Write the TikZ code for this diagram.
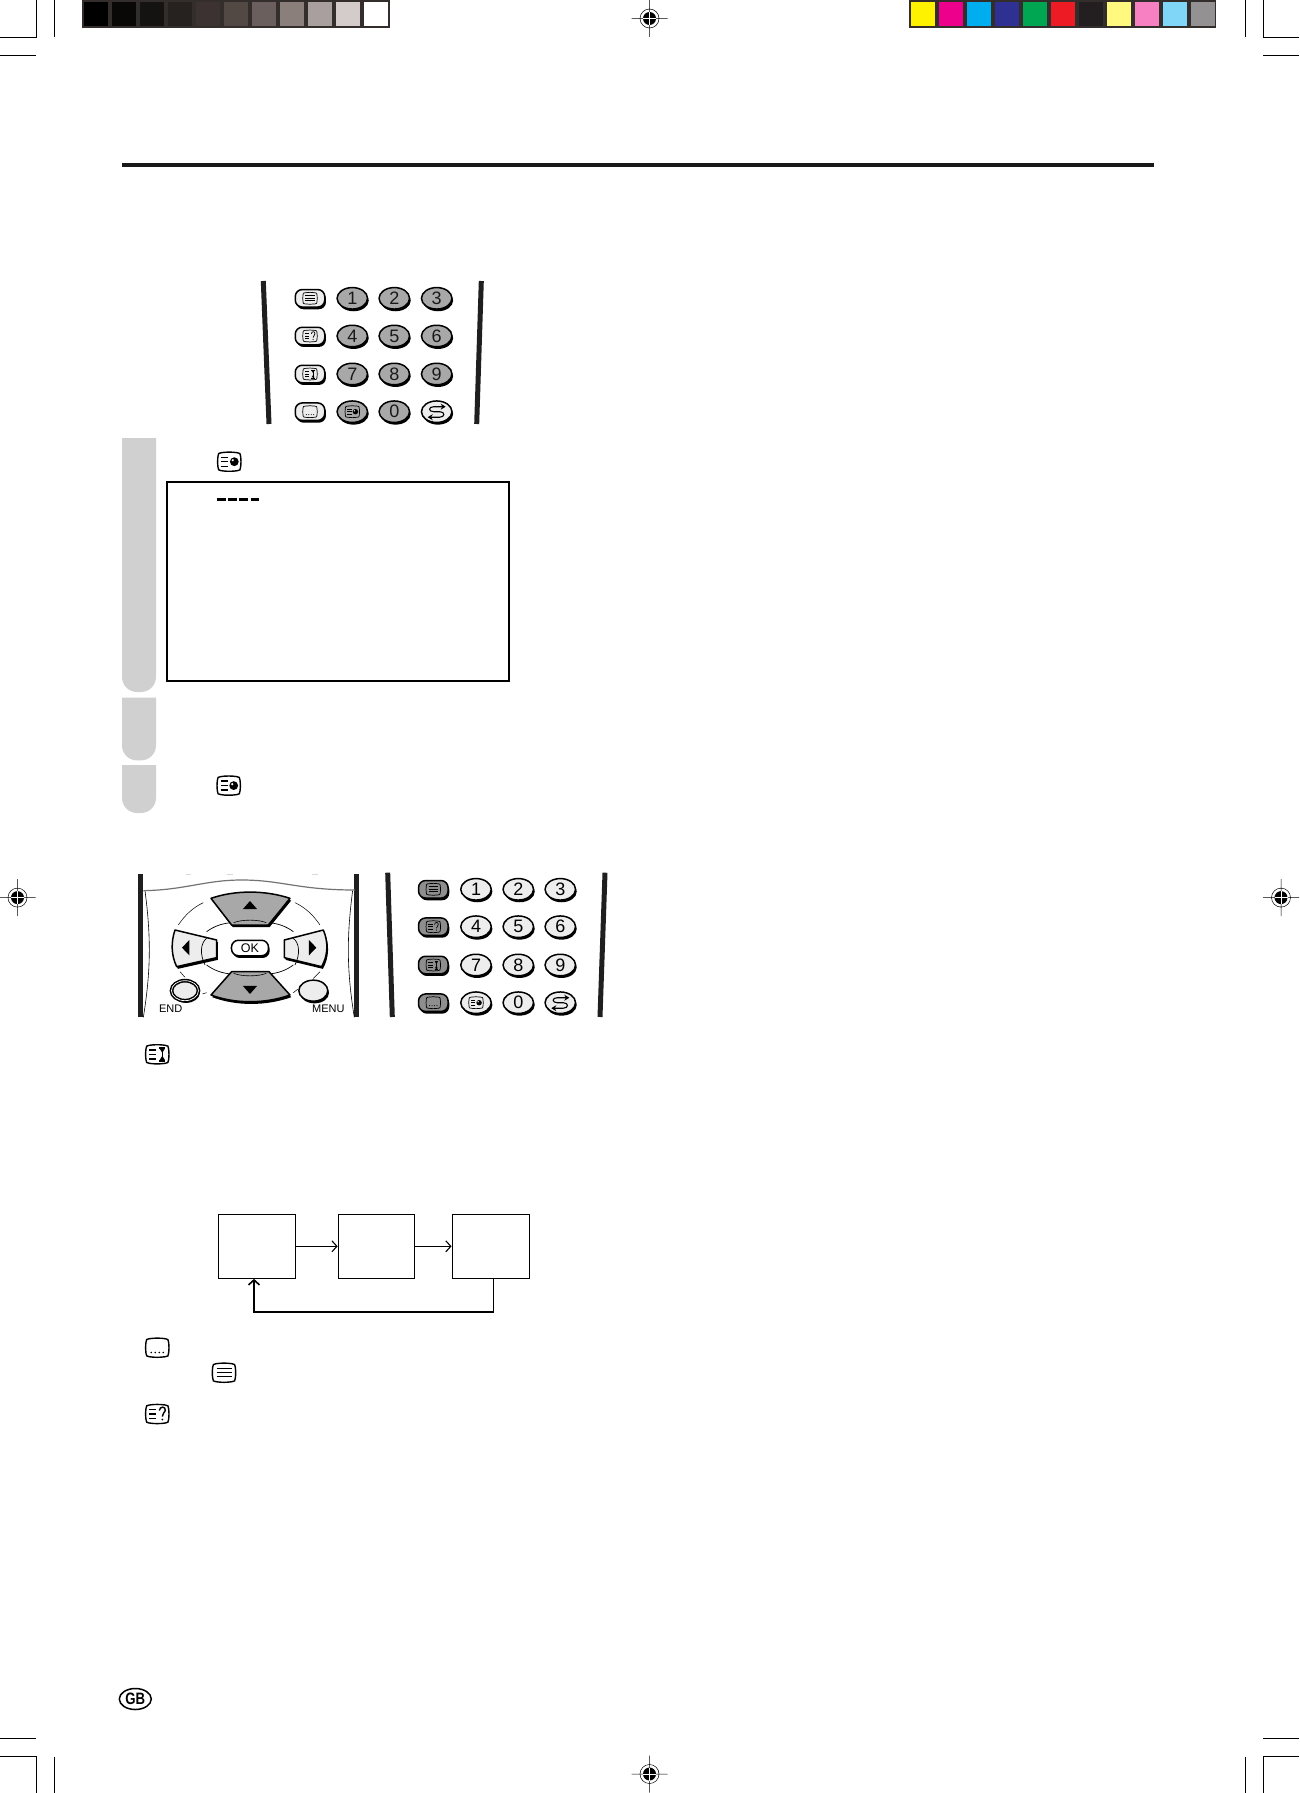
\documentclass[tikz,border=0pt]{standalone}
\usepackage{fontspec}
\setmainfont{Liberation Sans}
\usetikzlibrary{arrows.meta,shapes,positioning,shadows}
\definecolor{keygrey}{HTML}{A8A8A8}
\definecolor{keylight}{HTML}{EDEDED}
\definecolor{keydark}{HTML}{8E8E8E}
\definecolor{tabgrey}{HTML}{D0D0D0}
\definecolor{barframe}{HTML}{332E2C}
\tikzset{
  keyshadow/.style = {drop shadow={shadow xshift=1.2pt, shadow yshift=-2.2pt, fill=black, opacity=1}},
  numkey/.style    = {ellipse, draw, line width=1.5pt, keyshadow, minimum width=30.5pt, minimum height=21.5pt,
                     inner sep=0pt, font=\fontsize{18}{18}\selectfont},
  rowkey/.style    = {rectangle, draw, line width=1.5pt, keyshadow, rounded corners=7pt, minimum width=29.5pt,
                     minimum height=17.5pt, inner sep=0pt},
  padkey/.style    = {draw, line width=1.5pt, keyshadow, line join=round},
  screenbox/.style = {rectangle, draw, inner sep=0pt},
  stepbox/.style   = {screenbox, line width=1.1pt, minimum height=64pt},
  link/.style      = {line width=1.1pt, -{Straight Barb[length=5pt,width=11pt]}},
  crop/.style      = {line width=.8pt},
  sideline/.style  = {line width=5pt, color=black!88},
  bigicon/.style   = {line width=1.4pt},
  keyicon/.style   = {scale=.62, line width=.7pt},
  tvframe/.pic     = {\draw (-8,-9) .. controls (-3,-9.8) and (3,-9.8) .. (8,-9) .. controls (10.5,-9) and (11.3,-8) .. (11.3,-5.5)
                       .. controls (11.8,-2) and (11.8,2) .. (11.3,5.5) .. controls (11.3,8) and (10.5,9) .. (8,9)
                       .. controls (3,9.8) and (-3,9.8) .. (-8,9) .. controls (-10.5,9) and (-11.3,8) .. (-11.3,5.5)
                       .. controls (-11.8,2) and (-11.8,-2) .. (-11.3,-5.5) .. controls (-11.3,-8) and (-10.5,-9) .. (-8,-9) -- cycle;},
  tvlines/.pic     = {\pic[transform shape] {tvframe};
                     \foreach \ly in {-4,0,4} \draw (-7.5,\ly) -- (7.5,\ly);},
  tvshort/.pic     = {\pic[transform shape] {tvframe};
                     \foreach \ly in {-4.5,0,4.5} \draw (-8,\ly) -- (-1,\ly);},
  tvquery/.pic     = {\pic[transform shape] {tvshort};
                     \draw (2,-3.5) .. controls (2.5,-8) and (8.5,-8) .. (8,-3.5) .. controls (7.5,-1) and (5,-1) .. (5,2.5);
                     \fill (5,5.5) circle (1);},
  tvhold/.pic      = {\pic[transform shape] {tvshort};
                     \draw (2,-6.5) -- (8,-6.5) (2,6.5) -- (8,6.5) (5,-6.5) -- (5,6.5);
                     \fill (2.5,-5.5) -- (7.5,-5.5) -- (5,-1.5) -- cycle (2.5,5.5) -- (7.5,5.5) -- (5,1.5) -- cycle;},
  tvmix/.pic       = {\pic[transform shape] {tvshort};
                     \fill (5,0) circle (4.4);
                     \fill[white] (3.5,-1.5) circle (1.2);},
  tvdots/.pic      = {\pic[transform shape] {tvframe};
                     \foreach \lx in {-6,-2,2,6} \fill (\lx,4.8) circle (.9);},
  swapmark/.pic    = {\draw[line width=1.1pt, {Stealth[length=5pt,width=6pt]}-{Stealth[length=5pt,width=6pt]}]
                       (9,-5) -- (-3,-5) .. controls (-8.5,-5) and (-8.5,0) .. (-3,0) -- (3,0) .. controls (8.5,0) and (8.5,5.5) .. (3,5.5) -- (-9,5.5);},
  regmark/.pic     = {\draw[line width=.5pt] (-18,0) -- (18,0) (0,-18.5) -- (0,18.5) (0,0) circle (9.5);
                     \fill (0,0) circle (6.5);
                     \draw[white, line width=.9pt] (-6.5,0) -- (6.5,0) (0,-6.5) -- (0,6.5);}
}

\begin{document}
\begin{tikzpicture}[x=1pt,y=-1pt]
\useasboundingbox (0,0) rectangle (1299,1793);

% crop marks
\draw[crop] (0,37.5) -- (36.6,37.5) -- (36.6,0) (54.5,0) -- (54.5,37) (0,55) -- (36,55);
\draw[crop] (1299,37.5) -- (1263.4,37.5) -- (1263.4,0) (1245.5,0) -- (1245.5,37) (1299,55) -- (1263.4,55);
\draw[crop] (0,1756) -- (36.6,1756) -- (36.6,1793) (54.5,1793) -- (54.5,1757) (0,1738) -- (36,1738);
\draw[crop] (1299,1756) -- (1263.4,1756) -- (1263.4,1793) (1245.5,1793) -- (1245.5,1757) (1299,1738) -- (1263.4,1738);
\pic at (649.5,18.5) {regmark};
\pic at (649.5,1774) {regmark};
\pic at (17.5,897.6) {regmark};
\pic at (1281,897.6) {regmark};

% colour bars
\fill[barframe] (82,0) rectangle (389.7,27.7);
\fill[barframe] (909,0) rectangle (1216,27.7);
\foreach \n/\shade in {0/000000,1/0A0807,2/151312,3/262220,4/3C3331,5/524945,6/6A5F5C,7/8A7F7A,8/A9A09E,9/D4CCCB,10/FFFFFF}
  {\definecolor{barcol}{HTML}{\shade}
   \fill[barcol] (83.7+28*\n,2) rectangle ++(24,24);}
\foreach \n/\shade in {0/FFF200,1/EC008C,2/00AEEF,3/2E3192,4/00A651,5/ED1C24,6/231F20,7/FFF97F,8/F780C3,9/7FD6F7,10/939191}
  {\definecolor{barcol}{HTML}{\shade}
   \fill[barcol] (910.8+28*\n,2) rectangle ++(24,24);}

% page rule
\draw[line width=4pt, color=black!90] (122,164.7) -- (1154,164.7);

% first keypad
\draw[sideline] (263.3,281) -- (269,424);
\draw[sideline] (481.3,281) -- (476.7,424);
\foreach \ky/\a/\b/\c/\row/\ic in {298.3/1/2/3/a/tvlines, 336/4/5/6/b/tvquery, 374/7/8/9/c/tvhold}{
  \node[rowkey, fill=keylight] (top\row) at (310,\ky) {};
  \pic[keyicon] at (top\row) {\ic};
  \node[numkey, fill=keygrey, text=black!90] (top\a) at (352.3,\ky) {\a};
  \node[numkey, fill=keygrey, text=black!90] (top\b) at (394.3,\ky) {\b};
  \node[numkey, fill=keygrey, text=black!90] (top\c) at (436.7,\ky) {\c};
}
\node[rowkey, fill=keylight] (topd) at (310,411.7) {};
\pic[keyicon] at (topd) {tvdots};
\node[numkey, fill=keygrey] (topmix) at (352.3,411.7) {};
\pic[keyicon] at (topmix) {tvmix};
\node[numkey, fill=keygrey, text=black!90] (top0) at (394.3,411.7) {0};
\node[numkey, fill=keylight] (topswap) at (436.7,411.7) {};
\pic at (topswap) {swapmark};

% grey tabs
\foreach \ta/\tb in {438/692, 697.5/760.4, 765/813}
  \fill[tabgrey] (156,\ta) [rounded corners=15pt] -- (156,\tb) -- (122,\tb) [sharp corners] -- (122,\ta) -- cycle;

% screen
\pic[bigicon] at (229.3,461.7) {tvmix};
\node[screenbox, line width=2pt, minimum width=342pt, minimum height=199pt] (screen) at (338,581.3) {};
\draw[line width=3pt, dash pattern=on 9pt off 2.3pt] (216.7,499.3) -- (259,499.3);
\pic[bigicon] at (228.7,785.6) {tvmix};

% cursor pad
\begin{scope}[shift={(125,860)},x=.3333pt,y=-.3333pt]
\draw[sideline] (47,42) -- (47,472);
\draw[sideline] (695,42) -- (695,472);
\draw[line width=.6pt] (60,92) .. controls (78,230) and (78,330) .. (55,472);
\draw[line width=.6pt] (683,92) .. controls (665,230) and (665,330) .. (688,472);
\draw[line width=1.2pt, color=black!55] (55,92) .. controls (180,90) and (240,60) .. (350,60) .. controls (470,60) and (520,90) .. (690,90);
\foreach \dx in {190,315,570} \draw[line width=.7pt, color=black!15] (\dx-8,42) -- (\dx+8,42);
% thin rings
\draw[line width=.5pt] (160,195) .. controls (180,165) and (205,142) .. (235,128);
\draw[line width=.5pt] (510,128) .. controls (540,142) and (565,165) .. (585,195);
\draw[line width=.5pt] (165,335) -- (180,352) (585,335) -- (565,355) (232,402) -- (245,398) (505,398) -- (518,388);
\draw[line width=.7pt] (245,215) .. controls (265,200) and (290,190) .. (320,188);
\draw[line width=.7pt] (430,188) .. controls (460,190) and (485,200) .. (505,215);
\draw[line width=.7pt] (245,315) .. controls (265,330) and (290,340) .. (320,342);
\draw[line width=.7pt] (430,342) .. controls (460,340) and (485,330) .. (505,315);
% arrow keys
\path[padkey, fill=keygrey] (258,115) .. controls (330,90) and (420,90) .. (495,115) -- (430,195) -- (320,195) -- cycle;
\path[padkey, fill=keygrey] (258,405) .. controls (330,432) and (420,432) .. (495,405) -- (432,335) -- (320,335) -- cycle;
\draw[line width=.6pt] (326,188) .. controls (350,178) and (400,178) .. (424,188);
\draw[line width=.6pt] (326,340) .. controls (350,350) and (400,350) .. (424,340);
\path[padkey, fill=keylight] (150,210) -- (275,240) -- (275,293) -- (155,320) .. controls (138,285) and (138,245) .. (150,210) -- cycle;
\path[padkey, fill=keylight] (595,210) -- (478,240) -- (478,293) -- (590,320) .. controls (610,285) and (610,245) .. (595,210) -- cycle;
\draw[line width=.7pt] (245,235) .. controls (225,250) and (225,285) .. (240,315);
\draw[line width=.7pt] (505,235) .. controls (525,250) and (525,285) .. (510,315);
\fill (375,123) -- (396,147) -- (354,147) -- cycle;
\fill (375,402) -- (396,378) -- (354,378) -- cycle;
\fill (171,263) -- (193,240) -- (193,286) -- cycle;
\fill (574,263) -- (552,240) -- (552,286) -- cycle;
\node[rowkey, fill=white, minimum width=37pt, minimum height=15.5pt, font=\fontsize{12.5}{12.5}\selectfont] (okkey) at (375,264) {OK};
\node[ellipse, draw, line width=1.5pt, double, double distance=.7pt, keyshadow, fill=keylight, minimum width=27pt, minimum height=20pt, inner sep=0pt] (endkey) at (180,392) {};
\node[ellipse, draw, line width=1.5pt, keyshadow, fill=keylight, minimum width=29pt, minimum height=21pt, inner sep=0pt] (menukey) at (565,392) {};
\node[font=\fontsize{11}{11}\selectfont, inner sep=0pt] (endlabel) at (137,447) {END};
\node[font=\fontsize{11}{11}\selectfont, inner sep=0pt] (menulabel) at (610,447) {MENU};
\end{scope}

% second keypad
\draw[sideline] (387.7,872.7) -- (392.3,1017);
\draw[sideline] (605,872.7) -- (600,1017);
\foreach \ky/\a/\b/\c/\row/\ic in {889.3/1/2/3/a/tvlines, 926.7/4/5/6/b/tvquery, 965/7/8/9/c/tvhold}{
  \node[rowkey, fill=keydark] (low\row) at (433.3,\ky) {};
  \pic[keyicon] at (low\row) {\ic};
  \node[numkey, fill=keylight] (low\a) at (476,\ky) {\a};
  \node[numkey, fill=keylight] (low\b) at (518.3,\ky) {\b};
  \node[numkey, fill=keylight] (low\c) at (560.3,\ky) {\c};
}
\node[rowkey, fill=keydark] (lowd) at (433.3,1002.7) {};
\pic[keyicon] at (lowd) {tvdots};
\node[numkey, fill=keylight] (lowmix) at (476,1002.7) {};
\pic[keyicon] at (lowmix) {tvmix};
\node[numkey, fill=keylight] (low0) at (518.3,1002.7) {0};
\node[numkey, fill=keylight] (lowswap) at (560.3,1002.7) {};
\pic at (lowswap) {swapmark};

% loop of three boxes
\pic[bigicon] at (157.3,1054.3) {tvhold};
\node[stepbox, minimum width=77.4pt] (box1) at (257,1246.3) {};
\node[stepbox, minimum width=76pt, right=41.4pt of box1] (box2) {};
\node[stepbox, minimum width=77.4pt, right=36.8pt of box2] (box3) {};
\coordinate (loopr) at (493.3,1311.7);
\coordinate (loopl) at (254,1311.7);
\draw[link] (box1) -- (box2);
\draw[link] (box2) -- (box3);
\draw[link, line width=1.6pt] (box3.south -| loopr) -- (loopr) -- (loopl) -- (box1.south -| loopl);

\pic[bigicon] at (157.3,1347.7) {tvdots};
\pic[bigicon] at (224,1372.7) {tvlines};
\pic[bigicon] at (157.3,1414) {tvquery};

% page badge
\node[ellipse, draw, line width=1.5pt, minimum width=32pt, minimum height=21pt, inner sep=0pt,
      font=\bfseries\fontsize{16.5}{16.5}\selectfont] (badge) at (135.3,1699) {\scalebox{.8}[1]{GB}};
\end{tikzpicture}
\end{document}
